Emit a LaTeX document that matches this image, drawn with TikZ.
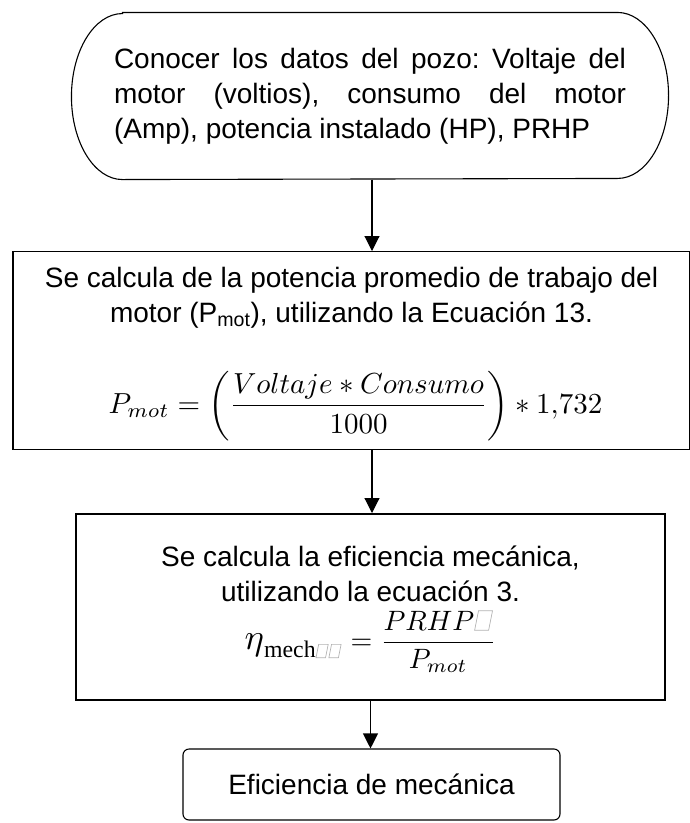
\RequirePackage{fix-cm}
\documentclass[tikz,border=0pt]{standalone}
\usepackage{graphicx}
\usepackage{fontspec}
\setmainfont{Liberation Sans}
\setmathrm{Liberation Serif}
\newfontfamily\serif{Liberation Serif}
\usetikzlibrary{arrows.meta}

\tikzset{
  txt/.style={font=\fontsize{28}{35}\selectfont, inner sep=0pt},
  procbox/.style={draw, txt, align=center},
}
% empty glyph box as printed in the source
\newcommand{\nog}[1][1]{\tikz[baseline=0pt, scale=#1]\draw[gray!60, line width=.25pt, xslant=.2] (0,0) rectangle (.5em,.7em);}
% formula set at 10pt and enlarged
\newcommand{\eqn}[2]{\scalebox{#1}{\fontsize{10}{12}\selectfont$\displaystyle #2$}}

\begin{document}
\frenchspacing
\begin{tikzpicture}[>={Triangle[length=15pt,width=15pt]}, x=1pt, y=1pt, line width=1.1pt]
\useasboundingbox (0,0) rectangle (690,-823);

\node[txt, text width=512pt, align=justify, minimum width=596pt, minimum height=166pt] (start) at (370,-96)
{Conocer los datos del pozo: Voltaje del\linebreak motor (voltios), consumo del motor\linebreak (Amp), potencia instalado (HP), PRHP};
\draw ([xshift=51pt]start.north west) -- ([xshift=-51pt]start.north east)
  arc[start angle=90, end angle=-90, x radius=51pt, y radius=83pt]
  -- ([xshift=51pt]start.south west)
  arc[start angle=270, end angle=90, x radius=51pt, y radius=83pt] -- cycle;

\node[procbox, minimum width=677pt, minimum height=198pt, anchor=north] (calc) at (351.5,-251)
{Se calcula de la potencia promedio de trabajo del\\
 motor (P\textsubscript{mot}), utilizando la Ecuación 13.\\[42pt]
 \hspace*{8pt}\eqn{2.9}{P_{mot}=\left(\frac{Voltaje*Consumo}{1000}\right)*1{,}732}\\[-14pt]\mbox{}};

\node[procbox, line width=1.7pt, minimum width=589pt, minimum height=186pt, anchor=north] (eff) at (370.5,-513)
{Se calcula la eficiencia mecánica,\\
 utilizando la ecuación 3.\\[8pt]
 \eqn{2.8}{\mbox{\scalebox{1.3}{$\eta$}}_{\mbox{\fontsize{8.5}{10}\serif mech\nog[.8]\nog[.8]}}=\frac{PRHP\nog}{P_{mot}}}\\[-16pt]\mbox{}};

\node[procbox, rounded corners=6pt, minimum width=377pt, minimum height=71pt] (res) at (371.5,-784.5)
{Eficiencia de mecánica};

\draw[->] ([xshift=2pt]start.south) -- ([xshift=2pt]start.south |- calc.north);
\draw[->] ([xshift=2pt]start.south |- calc.south) -- ([xshift=2pt]start.south |- eff.north);
\draw[->] (eff.south) -- (eff.south |- res.north);

\end{tikzpicture}
\end{document}
